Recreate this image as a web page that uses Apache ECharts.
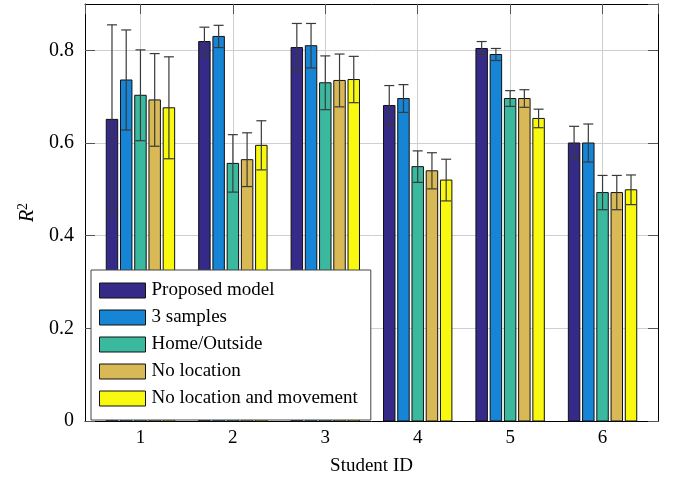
<!DOCTYPE html>
<html>
<head>
<meta charset="utf-8">
<script src="https://cdn.jsdelivr.net/npm/echarts@6/dist/echarts.min.js"></script>
<style>html,body{margin:0;padding:0;background:#fff}#c{width:678px;height:481px}</style>
</head>
<body>
<div id="c"></div>
<script>
const studentIds = [1, 2, 3, 4, 5, 6];
const modelNames = ['Proposed model', '3 samples', 'Home/Outside', 'No location', 'No location and movement'];
const meanProposed   = [0.651, 0.819, 0.806, 0.681, 0.804, 0.600];
const sdProposed     = [0.204, 0.031, 0.052, 0.043, 0.015, 0.036];
const meanSamples3   = [0.736, 0.830, 0.810, 0.696, 0.791, 0.600];
const sdSamples3     = [0.108, 0.024, 0.048, 0.030, 0.013, 0.041];
const meanHomeOut    = [0.703, 0.556, 0.730, 0.549, 0.696, 0.493];
const sdHomeOut      = [0.098, 0.062, 0.058, 0.034, 0.017, 0.037];
const meanNoLoc      = [0.693, 0.564, 0.735, 0.540, 0.696, 0.493];
const sdNoLoc        = [0.100, 0.058, 0.057, 0.039, 0.019, 0.037];
const meanNoLocMove  = [0.676, 0.595, 0.737, 0.520, 0.653, 0.499];
const sdNoLocMove    = [0.110, 0.053, 0.050, 0.045, 0.020, 0.032];
const yTicks = [0, 0.2, 0.4, 0.6, 0.8];

const means = [meanProposed, meanSamples3, meanHomeOut, meanNoLoc, meanNoLocMove];
const sds = [sdProposed, sdSamples3, sdHomeOut, sdNoLoc, sdNoLocMove];
const colors = ['#352a87', '#1685d6', '#3bb99f', '#d9b856', '#f8f811'];

const BAR_W = 0.124, PITCH = 0.154, CAP = 5;
const FONT = 'Liberation Serif';

function makeRender(k) {
  return function (params, api) {
    const x = api.value(0) + PITCH * (k - 2);
    const m = api.value(1), sd = api.value(2);
    const base = api.coord([x, 0]);
    const top = api.coord([x, m]);
    const hi = api.coord([x, m + sd]);
    const lo = api.coord([x, m - sd]);
    const w = api.size([BAR_W, 0])[0];
    const ec = '#3a3a3a';
    return {
      type: 'group',
      children: [
        { type: 'rect', shape: { x: base[0] - w / 2, y: top[1], width: w, height: base[1] - top[1] },
          style: { fill: colors[k], stroke: '#111', lineWidth: 1 } },
        { type: 'line', shape: { x1: top[0], y1: hi[1], x2: top[0], y2: lo[1] }, style: { stroke: ec, lineWidth: 1.2 } },
        { type: 'line', shape: { x1: top[0] - CAP, y1: hi[1], x2: top[0] + CAP, y2: hi[1] }, style: { stroke: ec, lineWidth: 1.2 } },
        { type: 'line', shape: { x1: top[0] - CAP, y1: lo[1], x2: top[0] + CAP, y2: lo[1] }, style: { stroke: ec, lineWidth: 1.2 } }
      ]
    };
  };
}

const series = modelNames.map((name, k) => ({
  name: name,
  type: 'custom',
  xAxisIndex: 0,
  yAxisIndex: 0,
  itemStyle: { color: colors[k], borderColor: '#111', borderWidth: 1 },
  renderItem: makeRender(k),
  encode: { x: 0, y: 1 },
  data: studentIds.map((id, i) => [id, means[k][i], sds[k][i]])
}));

const tickStyle = () => ({ show: true, inside: true, length: 10, lineStyle: { color: '#555', width: 1 } });
const axisLineStyle = () => ({ show: true, onZero: false, lineStyle: { color: '#000', width: 1 } });
const gridLine = () => ({ show: true, lineStyle: { color: '#cfcfcf', width: 1 } });

const xBase = () => ({ type: 'value', min: 0.4, max: 6.6, splitNumber: 6 });
const yBase = () => ({ type: 'value', min: 0, max: 0.9, interval: 0.2 });

const chart = echarts.init(document.getElementById('c'));
chart.setOption({
  animation: false,
  grid: { left: 85, right: 20, top: 4, bottom: 60, containLabel: false },
  legend: {
    orient: 'vertical',
    left: 91, top: 270,
    backgroundColor: '#fff',
    borderColor: '#444', borderWidth: 1, borderRadius: 0,
    padding: [11, 13, 12, 8],
    itemWidth: 46, itemHeight: 15, itemGap: 8,
    icon: 'rect',
    itemStyle: { borderColor: '#111', borderWidth: 1 },
    textStyle: { fontFamily: FONT, fontSize: 19, color: '#000', padding: [0, 0, 0, 1] },
    data: modelNames
  },
  xAxis: [
    Object.assign(xBase(), {
      position: 'bottom',
      name: 'Student ID', nameLocation: 'middle', nameGap: 36,
      nameTextStyle: { fontFamily: FONT, fontSize: 19, color: '#000' },
      axisLine: axisLineStyle(), axisTick: { show: false }, splitLine: gridLine(),
      axisLabel: { fontFamily: FONT, fontSize: 19, color: '#000', margin: 8, showMinLabel: false, showMaxLabel: false,
        formatter: v => (Number.isInteger(v) && studentIds.includes(v)) ? String(v) : '' }
    }),
    Object.assign(xBase(), {
      position: 'top',
      axisLine: axisLineStyle(), axisTick: tickStyle(), splitLine: { show: false }, axisLabel: { show: false }
    })
  ],
  yAxis: [
    Object.assign(yBase(), {
      position: 'left',
      name: '{i|R}{s|2}', nameLocation: 'middle', nameGap: 44, nameRotate: 90,
      nameTextStyle: { fontFamily: FONT, color: '#000',
        rich: { i: { fontFamily: FONT, fontStyle: 'italic', fontSize: 20, color: '#000' },
                s: { fontFamily: FONT, fontSize: 14, color: '#000', verticalAlign: 'top', padding: [0, 0, 10, 0] } } },
      axisLine: axisLineStyle(), axisTick: tickStyle(), splitLine: gridLine(),
      axisLabel: { fontFamily: FONT, fontSize: 20, color: '#000', margin: 11, showMaxLabel: false,
        formatter: v => yTicks.some(t => Math.abs(t - v) < 1e-9) ? String(v) : '' }
    }),
    Object.assign(yBase(), {
      position: 'right',
      axisLine: axisLineStyle(), axisTick: tickStyle(), splitLine: { show: false }, axisLabel: { show: false }
    })
  ],
  series: series
});
</script>
</body>
</html>
